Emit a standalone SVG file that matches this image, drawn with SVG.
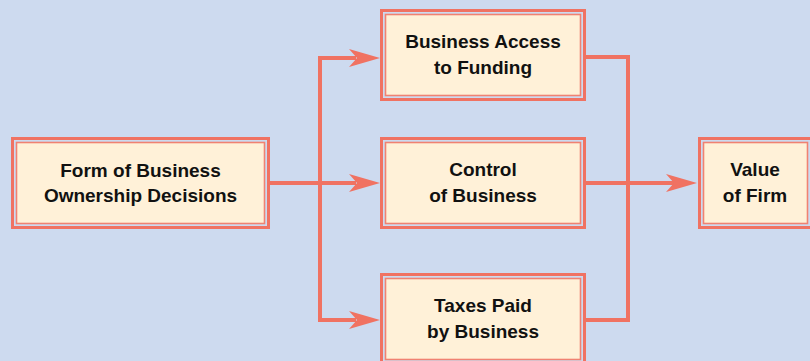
<svg xmlns="http://www.w3.org/2000/svg" width="810" height="361" viewBox="0 0 810 361">
<defs>
<style>
.bg{fill:#cddaef}
.outer{fill:none;stroke:#f07262;stroke-width:3}
.inner{fill:#fff1d8;stroke:#f08272;stroke-width:1.6}
.lbl{font-family:"Liberation Sans",Arial,sans-serif;font-weight:bold;font-size:19px;fill:#111;text-anchor:middle}
.wire{fill:none;stroke:#f07262;stroke-width:4;stroke-linejoin:miter}
.head{fill:#f07262}
</style>
</defs>
<rect class="bg" x="0" y="0" width="810" height="361"/>
<g id="connectors">
<path class="wire" d="M270,183 H356"/>
<path class="wire" d="M356,58 H320 V320 H356"/>
<path class="wire" d="M586,57 H628 V320 H586"/>
<path class="wire" d="M586,183 H674"/>
<polygon class="head" points="380,58 349,49 357,58 349,67"/>
<polygon class="head" points="380,183 349,174 357,183 349,192"/>
<polygon class="head" points="380,320 349,311 357,320 349,329"/>
<polygon class="head" points="697,183 666,174 674,183 666,192"/>
</g>
<g id="form">
<rect class="outer" x="12.5" y="138.5" width="256" height="89"/>
<rect class="inner" x="16.5" y="142.5" width="248" height="81"/>
<text class="lbl" x="140.5" y="177">Form of Business</text>
<text class="lbl" x="140.5" y="202">Ownership Decisions</text>
</g>
<g id="funding">
<rect class="outer" x="381.5" y="10.5" width="203" height="89"/>
<rect class="inner" x="385.5" y="14.5" width="195" height="81"/>
<text class="lbl" x="483" y="48">Business Access</text>
<text class="lbl" x="483" y="74">to Funding</text>
</g>
<g id="control">
<rect class="outer" x="381.5" y="138.5" width="203" height="89"/>
<rect class="inner" x="385.5" y="142.5" width="195" height="81"/>
<text class="lbl" x="483" y="176">Control</text>
<text class="lbl" x="483" y="202">of Business</text>
</g>
<g id="taxes">
<rect class="outer" x="381.5" y="274.5" width="203" height="89"/>
<rect class="inner" x="385.5" y="278.5" width="195" height="81"/>
<text class="lbl" x="483" y="312">Taxes Paid</text>
<text class="lbl" x="483" y="338">by Business</text>
</g>
<g id="value">
<rect class="outer" x="699.5" y="138.5" width="112" height="89"/>
<rect class="inner" x="703.5" y="142.5" width="104" height="81"/>
<text class="lbl" x="755" y="176">Value</text>
<text class="lbl" x="755" y="202">of Firm</text>
</g>
</svg>
